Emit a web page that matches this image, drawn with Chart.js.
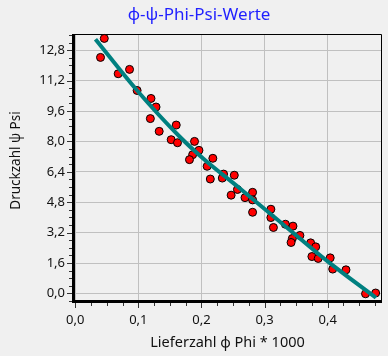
<!DOCTYPE html>
<html><head><meta charset="utf-8">
<script src="https://cdn.jsdelivr.net/npm/chart.js@4/dist/chart.umd.min.js"></script>
<style>html,body{margin:0;padding:0;background:#f0f0f0;overflow:hidden}#wrap{width:388px;height:356px;position:relative}canvas{display:block}</style>
</head><body><div id="wrap"><canvas id="c" width="388" height="356"></canvas></div>
<script>
const chartTitle = 'φ-ψ-Phi-Psi-Werte';
const xAxisTitle = 'Lieferzahl φ Phi * 1000';
const yAxisTitle = 'Druckzahl ψ Psi';

// measured points (phi, psi)
const phiValues = [0.046,0.040,0.068,0.086,0.098,0.120,0.128,0.119,0.160,0.133,0.152,0.162,0.189,0.196,0.186,0.181,0.218,0.209,0.235,0.252,0.233,0.214,0.257,0.247,0.281,0.269,0.281,0.281,0.310,0.310,0.314,0.333,0.345,0.344,0.342,0.356,0.373,0.381,0.375,0.385,0.404,0.408,0.429,0.460,0.476];
const psiValues = [13.42,12.42,11.56,11.79,10.68,10.26,9.81,9.20,8.86,8.53,8.09,7.93,8.00,7.53,7.30,7.04,7.11,6.69,6.28,6.22,6.07,6.02,5.47,5.17,5.32,5.04,4.92,4.27,4.43,3.99,3.47,3.64,3.54,2.89,2.68,3.05,2.66,2.45,1.94,1.84,1.87,1.28,1.24,-0.02,0.02];

// fit curve
const fitPhi = [0.032,0.098,0.166,0.204,0.261,0.356,0.401,0.4765];
const fitPsi = [13.38,10.68,8.23,7.06,5.52,2.89,1.66,-0.23];

const xTickValues = [0,0.1,0.2,0.3,0.4];
const xTickLabels = ['0,0','0,1','0,2','0,3','0,4'];
const yTickValues = [0,1.6,3.2,4.8,6.4,8.0,9.6,11.2,12.8];
const yTickLabels = ['0,0','1,6','3,2','4,8','6,4','8,0','9,6','11,2','12,8'];
const xMinorTicks = [0.025,0.05,0.075,0.125,0.15,0.175,0.225,0.25,0.275,0.325,0.35,0.375,0.425,0.45,0.475];
const yMinorTicks = [-0.4,0.4,0.8,1.2,2.0,2.4,2.8,3.6,4.0,4.4,5.2,5.6,6.0,6.8,7.2,7.6,8.4,8.8,9.2,10.0,10.4,10.8,11.6,12.0,12.4,13.2,13.6];

const FONT = "'Noto Sans', 'Open Sans', sans-serif";

function isMajor(v, majors){ return majors.some(m => Math.abs(m - v) < 1e-6); }
function labelFor(v, majors, labels){ const i = majors.findIndex(m => Math.abs(m - v) < 1e-6); return i >= 0 ? labels[i] : ''; }

const framePlugin = {
  id: 'frame',
  afterLayout(chart){
    if (chart.titleBlock){ chart.titleBlock.left = 10; chart.titleBlock.right = 388; }
  },
  beforeDatasetsDraw(chart){
    const {ctx, chartArea:a, scales} = chart;
    ctx.save();
    ctx.strokeStyle = '#000';
    ctx.lineWidth = 1;
    ctx.beginPath();
    ctx.moveTo(a.left, a.top - 0.5); ctx.lineTo(a.right + 0.5, a.top - 0.5); ctx.lineTo(a.right + 0.5, a.bottom);
    ctx.stroke();
    ctx.lineWidth = 3;
    ctx.beginPath();
    ctx.moveTo(a.left - 0.5, a.top - 1); ctx.lineTo(a.left - 0.5, a.bottom + 0.5); ctx.lineTo(a.right + 1, a.bottom + 0.5);
    ctx.stroke();
    ctx.lineWidth = 1;
    ctx.strokeStyle = '#333';
    ctx.beginPath();
    const xs = scales.x, ys = scales.y;
    xs.ticks.forEach(t => {
      const p = Math.round(xs.getPixelForValue(t.value)) + 0.5;
      const len = isMajor(t.value, xTickValues) ? 5 : 3;
      ctx.moveTo(p, a.bottom + 2); ctx.lineTo(p, a.bottom + 2 + len);
    });
    ys.ticks.forEach(t => {
      const p = Math.round(ys.getPixelForValue(t.value)) + 0.5;
      const len = isMajor(t.value, yTickValues) ? 5 : 3;
      ctx.moveTo(a.left - 2, p); ctx.lineTo(a.left - 2 - len, p);
    });
    ctx.stroke();
    // y axis title
    ctx.fillStyle = '#111';
    ctx.font = '13.5px ' + FONT;
    ctx.textAlign = 'center';
    ctx.textBaseline = 'alphabetic';
    ctx.translate(20, 160.5);
    ctx.rotate(-Math.PI / 2);
    ctx.fillText(yAxisTitle, 0, 0);
    ctx.restore();
  }
};

new Chart(document.getElementById('c'), {
  type: 'scatter',
  data: {
    datasets: [
      {
        type: 'line',
        label: 'Fit',
        data: fitPhi.map((x, i) => ({x, y: fitPsi[i]})),
        borderColor: '#008080',
        borderWidth: 4,
        pointRadius: 0,
        fill: false,
        cubicInterpolationMode: 'monotone',
        order: 0,
        clip: false
      },
      {
        label: 'Werte',
        data: phiValues.map((x, i) => ({x, y: psiValues[i]})),
        backgroundColor: '#ff0000',
        borderColor: '#000',
        borderWidth: 1,
        pointRadius: 4,
        order: 1,
        clip: false
      }
    ]
  },
  options: {
    responsive: false,
    animation: false,
    devicePixelRatio: 1,
    layout: { padding: {left: 0, right: 7, top: 0, bottom: 0}, autoPadding: false },
    plugins: {
      legend: { display: false },
      tooltip: { enabled: false },
      title: {
        display: true,
        text: chartTitle,
        color: '#1f1fff',
        font: { family: FONT, size: 17, weight: 'normal' },
        padding: { top: 5, bottom: 9.6 }
      }
    },
    scales: {
      x: {
        type: 'linear',
        min: -0.002, max: 0.4845,
        afterBuildTicks: s => { s.ticks = xTickValues.concat(xMinorTicks).sort((a,b)=>a-b).map(v => ({value: v})); },
        afterFit: s => { s.height = 55; },
        ticks: {
          autoSkip: false, maxRotation: 0, padding: 6,
          color: '#111',
          font: { family: FONT, size: 13 },
          callback: v => labelFor(v, xTickValues, xTickLabels)
        },
        grid: {
          color: c => (c.tick && isMajor(c.tick.value, xTickValues)) ? '#c0c0c0' : 'rgba(0,0,0,0)',
          lineWidth: 1,
          drawTicks: true, tickLength: 5, tickColor: 'rgba(0,0,0,0)'
        },
        border: { display: false },
        title: {
          display: true, text: xAxisTitle, color: '#111',
          font: { family: FONT, size: 14.5 },
          padding: { top: 0, bottom: 4.5 }
        }
      },
      y: {
        type: 'linear',
        min: -0.4, max: 13.6,
        afterBuildTicks: s => { s.ticks = yTickValues.concat(yMinorTicks).sort((a,b)=>a-b).map(v => ({value: v})); },
        afterFit: s => { s.width = 74; },
        ticks: {
          autoSkip: false, padding: 4,
          color: '#111',
          font: { family: FONT, size: 13 },
          callback: v => labelFor(v, yTickValues, yTickLabels)
        },
        grid: {
          color: c => (c.tick && isMajor(c.tick.value, yTickValues)) ? '#c0c0c0' : 'rgba(0,0,0,0)',
          lineWidth: 1,
          drawTicks: true, tickLength: 5, tickColor: 'rgba(0,0,0,0)'
        },
        border: { display: false },
        title: { display: false }
      }
    }
  },
  plugins: [framePlugin]
});
</script>
</body></html>
